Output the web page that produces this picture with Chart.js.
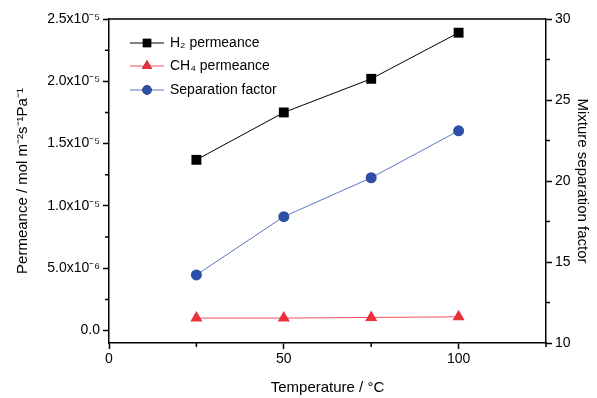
<!DOCTYPE html>
<html>
<head>
<meta charset="utf-8">
<script src="https://cdn.jsdelivr.net/npm/chart.js@4/dist/chart.umd.min.js"></script>
<style>body{margin:0;background:#fff}</style>
</head>
<body>
<canvas id="chart" width="597" height="398"></canvas>
<script>
const temps = [25, 50, 75, 100];
const h2Perm = [13.7e-6, 17.5e-6, 20.2e-6, 23.9e-6];
const ch4Perm = [1.0e-6, 1.0e-6, 1.05e-6, 1.1e-6];
const sepFactor = [14.2, 17.8, 20.2, 23.1];

const xMajor = [0, 50, 100];
const xMinor = [25, 75, 125];
const permTicks = [0, 5e-6, 1e-5, 1.5e-5, 2e-5, 2.5e-5];
const permLabels = ["0.0", "5.0x10⁻⁶", "1.0x10⁻⁵", "1.5x10⁻⁵", "2.0x10⁻⁵", "2.5x10⁻⁵"];
const permMinor = [2.5e-6, 7.5e-6, 1.25e-5, 1.75e-5, 2.25e-5];
const sepTicks = [10, 15, 20, 25, 30];
const sepMinor = [12.5, 17.5, 22.5, 27.5];

const FONT = "'Liberation Sans', Arial, sans-serif";

function pts(ys) {
  return temps.map((t, i) => ({ x: t, y: ys[i] }));
}

// minor ticks, top frame line
const framePlugin = {
  id: "frame",
  afterDraw(chart) {
    const ctx = chart.ctx;
    const a = chart.chartArea;
    ctx.save();
    ctx.strokeStyle = "#000";
    ctx.lineWidth = 1.5;
    ctx.beginPath();
    ctx.moveTo(a.left, a.top);
    ctx.lineTo(a.right, a.top);
    ctx.stroke();
    ctx.beginPath();
    xMinor.forEach(v => {
      const px = chart.scales.x.getPixelForValue(v);
      ctx.moveTo(px, a.bottom);
      ctx.lineTo(px, a.bottom + 4);
    });
    permMinor.forEach(v => {
      const py = chart.scales.y.getPixelForValue(v);
      ctx.moveTo(a.left, py);
      ctx.lineTo(a.left - 4, py);
    });
    sepMinor.forEach(v => {
      const py = chart.scales.y1.getPixelForValue(v);
      ctx.moveTo(a.right, py);
      ctx.lineTo(a.right + 4, py);
    });
    ctx.stroke();
    ctx.restore();
  }
};

// legend with line + marker
const legendPlugin = {
  id: "lineLegend",
  afterDraw(chart) {
    const ctx = chart.ctx;
    const x0 = 130, rowY = [43, 66, 90];
    ctx.save();
    chart.data.datasets.forEach((ds, i) => {
      const y = rowY[i];
      ctx.strokeStyle = ds.borderColor;
      ctx.lineWidth = 1;
      ctx.beginPath();
      ctx.moveTo(x0, y);
      ctx.lineTo(x0 + 34, y);
      ctx.stroke();
      Chart.helpers.drawPoint(ctx, {
        pointStyle: ds.pointStyle,
        radius: ds.pointRadius * 0.85,
        borderWidth: 0,
        rotation: 0
      }, x0 + 17, y);
      ctx.fillStyle = ds.pointBackgroundColor;
      ctx.fill();
      ctx.fillStyle = "#000";
      ctx.font = "14px " + FONT;
      ctx.textBaseline = "middle";
      ctx.fillText(ds.label, x0 + 40, y);
    });
    ctx.restore();
  }
};

new Chart(document.getElementById("chart"), {
  type: "line",
  data: {
    datasets: [
      {
        label: "H₂ permeance",
        data: pts(h2Perm),
        yAxisID: "y",
        borderColor: "#000",
        borderWidth: 1,
        pointStyle: "rect",
        pointRadius: 7,
        pointBackgroundColor: "#000",
        pointBorderWidth: 0
      },
      {
        label: "CH₄ permeance",
        data: pts(ch4Perm),
        yAxisID: "y",
        borderColor: "#f0525a",
        borderWidth: 1,
        pointStyle: "triangle",
        pointRadius: 7,
        pointBackgroundColor: "#e8313a",
        pointBorderWidth: 0
      },
      {
        label: "Separation factor",
        data: pts(sepFactor),
        yAxisID: "y1",
        borderColor: "#5d78c0",
        borderWidth: 1,
        pointStyle: "circle",
        pointRadius: 5.5,
        pointBackgroundColor: "#2e4fa8",
        pointBorderWidth: 0
      }
    ]
  },
  options: {
    responsive: false,
    animation: false,
    devicePixelRatio: 1,
    layout: { padding: { top: 19, left: 0, right: 0, bottom: 0 } },
    plugins: { legend: { display: false }, tooltip: { enabled: false } },
    scales: {
      x: {
        type: "linear",
        min: 0,
        max: 125,
        afterBuildTicks: s => { s.ticks = xMajor.map(v => ({ value: v })); },
        afterFit: s => { s.height = 55; },
        ticks: { color: "#000", font: { family: FONT, size: 14 }, padding: 2, maxRotation: 0 },
        grid: { drawOnChartArea: false, tickLength: 6, tickColor: "#000", tickWidth: 1.5 },
        border: { color: "#000", width: 1.5 },
        title: { display: true, text: "Temperature / °C", color: "#000", font: { family: FONT, size: 15 }, padding: { top: 4, bottom: 1 } }
      },
      y: {
        position: "left",
        min: -1e-6,
        max: 2.5e-5,
        afterBuildTicks: s => { s.ticks = permTicks.map(v => ({ value: v })); },
        afterFit: s => { s.width = 109; },
        ticks: { color: "#000", font: { family: FONT, size: 14 }, padding: 3, callback: (v, i) => permLabels[i] },
        grid: { drawOnChartArea: false, tickLength: 6, tickColor: "#000", tickWidth: 1.5 },
        border: { color: "#000", width: 1.5 },
        title: { display: true, text: "Permeance / mol m⁻²s⁻¹Pa⁻¹", color: "#000", font: { family: FONT, size: 15 }, padding: { top: 14, bottom: 4 } }
      },
      y1: {
        position: "right",
        min: 10,
        max: 30,
        afterBuildTicks: s => { s.ticks = sepTicks.map(v => ({ value: v })); },
        afterFit: s => { s.width = 51; },
        ticks: { color: "#000", font: { family: FONT, size: 14 }, padding: 3 },
        grid: { drawOnChartArea: false, tickLength: 6, tickColor: "#000", tickWidth: 1.5 },
        border: { color: "#000", width: 1.5 },
        title: { display: true, text: "Mixture separation factor", color: "#000", font: { family: FONT, size: 15 }, padding: { top: 6, bottom: 4 } }
      }
    }
  },
  plugins: [framePlugin, legendPlugin]
});
</script>
</body>
</html>
